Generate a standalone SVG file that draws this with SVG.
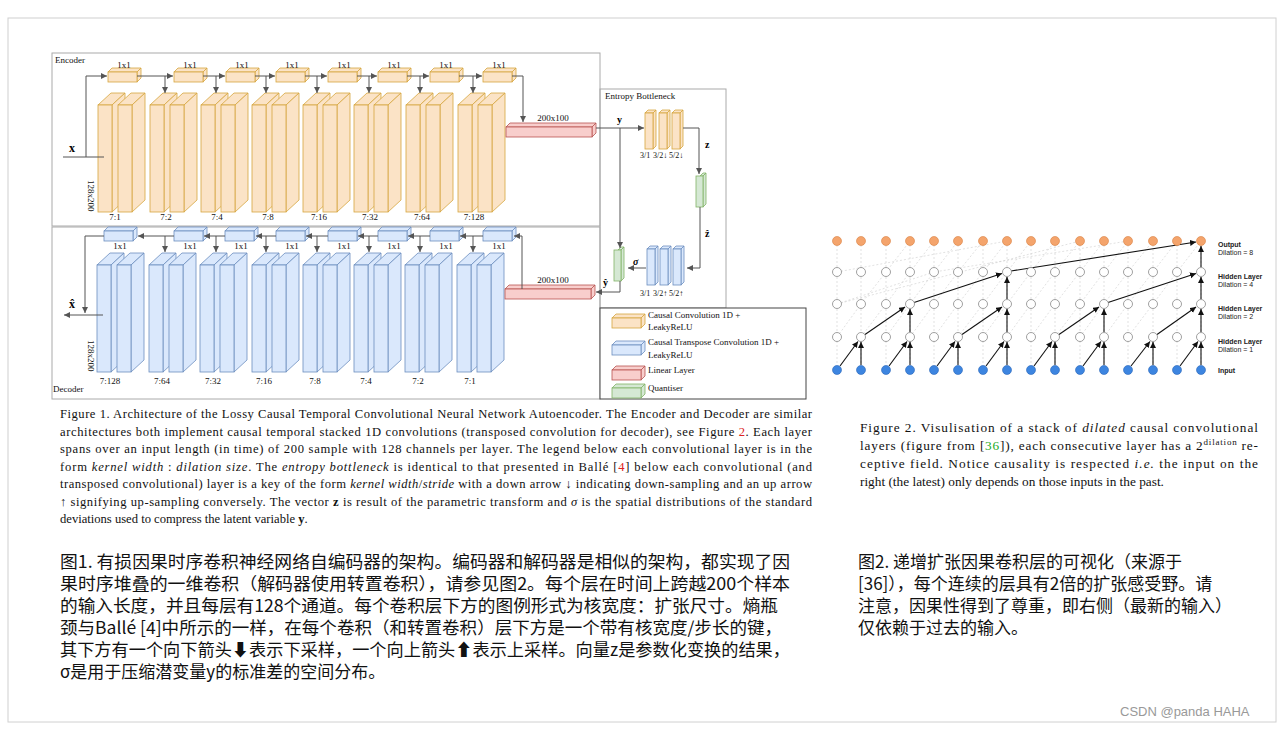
<svg xmlns="http://www.w3.org/2000/svg" xmlns:xlink="http://www.w3.org/1999/xlink" width="1284" height="729" viewBox="0 0 1284 729">
<style>
.s{font-family:"Liberation Serif",serif;font-size:9px;fill:#111}
.t{font-family:"Liberation Serif",serif;font-size:8px;fill:#111}
.cap{font-family:"Liberation Serif",serif;font-size:12.6px;fill:#111}
.cap2{font-family:"Liberation Serif",serif;font-size:13.3px;fill:#111}
.zh{font-family:"Noto Sans CJK SC","Liberation Sans",sans-serif;font-size:17px;fill:#111}
.ln{stroke:#555;stroke-width:1;fill:none}
.lk{stroke:#111;stroke-width:1.1;fill:none}
.lab{font-family:"Liberation Sans",Arial,sans-serif;font-size:7px;fill:#222}
.labb{font-family:"Liberation Sans",Arial,sans-serif;font-size:7px;font-weight:bold;fill:#222}
.o{fill:#fbe3c6;stroke:#d6a63f;stroke-width:0.8}
.b{fill:#dae8fc;stroke:#6c8ebf;stroke-width:0.8}
.r{fill:#f8cecc;stroke:#b85450;stroke-width:0.8}
.g{fill:#d5e8d4;stroke:#82b366;stroke-width:0.8}
.grid{stroke:#ccc;stroke-width:0.6;stroke-dasharray:2 2;fill:none}
</style>
<defs>
<marker id="ar" markerWidth="7" markerHeight="7" refX="6" refY="3" orient="auto" markerUnits="userSpaceOnUse"><path d="M0,0 L6,3 L0,6 Z" fill="#555"/></marker>
<marker id="ak" markerWidth="7" markerHeight="7" refX="6" refY="3" orient="auto" markerUnits="userSpaceOnUse"><path d="M0,0 L6,3 L0,6 Z" fill="#111"/></marker>
<g id="blk"><polygon points="0,0 13,-12 27,-12 14,0"/><polygon points="14,0 27,-12 27,95 14,107"/><rect x="0" y="0" width="14" height="107"/></g>
<g id="pair"><use xlink:href="#blk"/><use xlink:href="#blk" x="20"/></g>
<g id="sm"><polygon points="0,0 4,-4 33,-4 29,0"/><polygon points="29,0 33,-4 33,6 29,10"/><rect x="0" y="0" width="29" height="10"/></g>
<g id="lin"><polygon points="0,0 4,-4 90,-4 86,0"/><polygon points="86,0 90,-4 90,6 86,10"/><rect x="0" y="0" width="86" height="10"/></g>
<g id="bb"><polygon points="0,0 3,-3 11,-3 8,0"/><polygon points="8,0 11,-3 11,33 8,36"/><rect x="0" y="0" width="8" height="36"/></g>
<g id="qb"><polygon points="0,0 3,-3 6,-3 3,0"/><polygon points="3,0 6,-3 6,28 3,31"/><rect x="-4" y="0" width="7" height="31"/></g>
</defs>
<rect x="0" y="0" width="1284" height="729" fill="#fff"/>
<rect x="8" y="18" width="1268" height="704" fill="none" stroke="#d0d0d0"/>

<g id="frames" fill="none" stroke="#aaa" stroke-width="1">
<rect x="52" y="53" width="548" height="173"/>
<rect x="52" y="227" width="548" height="172"/>
<rect x="600" y="89" width="126" height="219"/>
</g>
<text class="s" x="55" y="63">Encoder</text>
<text class="s" x="53" y="392">Decoder</text>
<text class="s" x="605" y="99">Entropy Bottleneck</text>

<g id="encoder" class="o">
<use xlink:href="#pair" x="98" y="105"/><use xlink:href="#pair" x="150" y="105"/><use xlink:href="#pair" x="201" y="105"/><use xlink:href="#pair" x="252" y="105"/>
<use xlink:href="#pair" x="303" y="105"/><use xlink:href="#pair" x="354" y="105"/><use xlink:href="#pair" x="406" y="105"/><use xlink:href="#pair" x="458" y="105"/>
<use xlink:href="#sm" x="108" y="72"/><use xlink:href="#sm" x="174" y="72"/><use xlink:href="#sm" x="226" y="72"/><use xlink:href="#sm" x="276" y="72"/>
<use xlink:href="#sm" x="328" y="72"/><use xlink:href="#sm" x="378" y="72"/><use xlink:href="#sm" x="430" y="72"/><use xlink:href="#sm" x="483" y="72"/>
</g>
<g id="enc-linear" class="r"><use xlink:href="#lin" x="506" y="127"/></g>
<g class="s" text-anchor="middle">
<text x="124" y="68">1x1</text><text x="190" y="68">1x1</text><text x="242" y="68">1x1</text><text x="292" y="68">1x1</text>
<text x="344" y="68">1x1</text><text x="394" y="68">1x1</text><text x="446" y="68">1x1</text><text x="499" y="68">1x1</text>
<text x="115" y="220">7:1</text><text x="166" y="220">7:2</text><text x="217" y="220">7:4</text><text x="268" y="220">7:8</text>
<text x="319" y="220">7:16</text><text x="370" y="220">7:32</text><text x="422" y="220">7:64</text><text x="474" y="220">7:128</text>
<text x="553" y="121">200x100</text>
<text x="553" y="283">200x100</text>
<text x="110" y="384">7:128</text><text x="162" y="384">7:64</text><text x="213" y="384">7:32</text><text x="264" y="384">7:16</text>
<text x="315" y="384">7:8</text><text x="366" y="384">7:4</text><text x="418" y="384">7:2</text><text x="470" y="384">7:1</text>
<text x="120" y="249">1x1</text><text x="190" y="249">1x1</text><text x="241" y="249">1x1</text><text x="292" y="249">1x1</text>
<text x="344" y="249">1x1</text><text x="394" y="249">1x1</text><text x="446" y="249">1x1</text><text x="499" y="249">1x1</text>
</g>
<text class="s" transform="translate(88,180) rotate(90)">128x200</text>
<text class="s" transform="translate(88,340) rotate(90)">128x200</text>
<text x="69" y="152" font-family="Liberation Serif,serif" font-size="12" font-weight="bold">x</text>
<text x="69" y="308" font-family="Liberation Serif,serif" font-size="12" font-weight="bold">x̂</text>

<g id="decoder" class="b">
<use xlink:href="#pair" x="97" y="265"/><use xlink:href="#pair" x="149" y="265"/><use xlink:href="#pair" x="200" y="265"/><use xlink:href="#pair" x="252" y="265"/>
<use xlink:href="#pair" x="303" y="265"/><use xlink:href="#pair" x="354" y="265"/><use xlink:href="#pair" x="405" y="265"/><use xlink:href="#pair" x="457" y="265"/>
<use xlink:href="#sm" x="104" y="231"/><use xlink:href="#sm" x="174" y="231"/><use xlink:href="#sm" x="225" y="231"/><use xlink:href="#sm" x="276" y="231"/>
<use xlink:href="#sm" x="328" y="231"/><use xlink:href="#sm" x="378" y="231"/><use xlink:href="#sm" x="430" y="231"/><use xlink:href="#sm" x="483" y="231"/>
</g>
<g id="dec-linear" class="r"><use xlink:href="#lin" x="505" y="289"/></g>

<g id="bottleneck">
<g class="o"><use xlink:href="#bb" x="645" y="113"/><use xlink:href="#bb" x="659" y="113"/><use xlink:href="#bb" x="672" y="113"/></g>
<g class="b"><use xlink:href="#bb" x="647" y="249"/><use xlink:href="#bb" x="660" y="249"/><use xlink:href="#bb" x="673" y="249"/></g>
<g class="g"><use xlink:href="#qb" x="700" y="176"/><use xlink:href="#qb" x="618" y="250"/></g>
<g class="t"><text x="640" y="158">3/1</text><text x="653" y="158">3/2↓</text><text x="669" y="158">5/2↓</text>
<text x="640" y="296">3/1</text><text x="653" y="296">3/2↑</text><text x="669" y="296">5/2↑</text></g>
<g font-family="Liberation Serif,serif" font-size="10" font-weight="bold"><text x="617" y="123">y</text><text x="705" y="148">z</text><text x="705" y="237">ẑ</text><text x="603" y="286">ŷ</text><text x="633" y="265" font-style="italic">σ</text></g>
</g>

<g id="legend">
<rect x="600" y="308" width="206" height="91" fill="#fff" stroke="#444"/>
<g transform="translate(612,318)" class="o"><use xlink:href="#sm"/></g>
<g transform="translate(612,345)" class="b"><use xlink:href="#sm"/></g>
<g transform="translate(612,370)" class="r"><use xlink:href="#sm"/></g>
<g transform="translate(612,388)" class="g"><use xlink:href="#sm"/></g>
<g class="s"><text x="648" y="318">Causal Convolution 1D +</text><text x="648" y="330">LeakyReLU</text>
<text x="648" y="345">Causal Transpose Convolution 1D +</text><text x="648" y="358">LeakyReLU</text>
<text x="648" y="373">Linear Layer</text><text x="648" y="391">Quantiser</text></g>
</g>

<g id="connectors">
<polyline class="ln" points="63,157 104,157"/>
<polyline class="ln" points="86,157 86,76 107,76" marker-end="url(#ar)"/>
<line class="ln" x1="137" y1="76" x2="173" y2="76" marker-end="url(#ar)"/><line class="ln" x1="203" y1="76" x2="225" y2="76" marker-end="url(#ar)"/>
<line class="ln" x1="255" y1="76" x2="275" y2="76" marker-end="url(#ar)"/><line class="ln" x1="305" y1="76" x2="327" y2="76" marker-end="url(#ar)"/>
<line class="ln" x1="357" y1="76" x2="377" y2="76" marker-end="url(#ar)"/><line class="ln" x1="407" y1="76" x2="429" y2="76" marker-end="url(#ar)"/>
<line class="ln" x1="459" y1="76" x2="482" y2="76" marker-end="url(#ar)"/>
<polyline class="ln" points="512,76 523,76 523,122" marker-end="url(#ar)"/>
<line class="ln" x1="165" y1="76" x2="165" y2="93" marker-end="url(#ar)"/><line class="ln" x1="216" y1="76" x2="216" y2="93" marker-end="url(#ar)"/>
<line class="ln" x1="266" y1="76" x2="266" y2="93" marker-end="url(#ar)"/><line class="ln" x1="317" y1="76" x2="317" y2="93" marker-end="url(#ar)"/>
<line class="ln" x1="369" y1="76" x2="369" y2="93" marker-end="url(#ar)"/><line class="ln" x1="420" y1="76" x2="420" y2="93" marker-end="url(#ar)"/>
<line class="ln" x1="473" y1="76" x2="473" y2="93" marker-end="url(#ar)"/>
<polyline class="ln" points="522,289 522,236 514,236" marker-end="url(#ar)"/>
<line class="ln" x1="483" y1="236" x2="460" y2="236" marker-end="url(#ar)"/><line class="ln" x1="430" y1="236" x2="408" y2="236" marker-end="url(#ar)"/>
<line class="ln" x1="378" y1="236" x2="358" y2="236" marker-end="url(#ar)"/><line class="ln" x1="328" y1="236" x2="306" y2="236" marker-end="url(#ar)"/>
<line class="ln" x1="276" y1="236" x2="256" y2="236" marker-end="url(#ar)"/><line class="ln" x1="225" y1="236" x2="204" y2="236" marker-end="url(#ar)"/>
<line class="ln" x1="174" y1="236" x2="138" y2="236" marker-end="url(#ar)"/>
<polyline class="ln" points="104,236 85,236 85,313" marker-end="url(#ar)"/>
<line class="ln" x1="103" y1="315" x2="64" y2="315" marker-end="url(#ar)"/>
<line class="ln" x1="165" y1="236" x2="165" y2="252" marker-end="url(#ar)"/><line class="ln" x1="216" y1="236" x2="216" y2="252" marker-end="url(#ar)"/>
<line class="ln" x1="266" y1="236" x2="266" y2="252" marker-end="url(#ar)"/><line class="ln" x1="317" y1="236" x2="317" y2="252" marker-end="url(#ar)"/>
<line class="ln" x1="369" y1="236" x2="369" y2="252" marker-end="url(#ar)"/><line class="ln" x1="420" y1="236" x2="420" y2="252" marker-end="url(#ar)"/>
<line class="ln" x1="473" y1="236" x2="473" y2="252" marker-end="url(#ar)"/>
<line class="ln" x1="596" y1="128" x2="644" y2="128" marker-end="url(#ar)"/>
<polyline class="ln" points="683,128 699,128 699,174" marker-end="url(#ar)"/>
<polyline class="ln" points="700,207 700,268 687,268" marker-end="url(#ar)"/>
<line class="ln" x1="646" y1="268" x2="628" y2="268" marker-end="url(#ar)"/>
<line class="ln" x1="620" y1="128" x2="620" y2="248" marker-end="url(#ar)"/>
<polyline class="ln" points="620,281 620,292 596,292" marker-end="url(#ar)"/>
</g>

<g id="fig2">
<g class="grid">
<path d="M837,241V370M861,241V370M886,241V370M910,241V370M934,241V370M958,241V370M983,241V370M1007,241V370M1031,241V370M1055,241V370M1080,241V370M1104,241V370M1128,241V370M1153,241V370M1177,241V370M1201,241V370"/>
<path d="M837,337L861,304L886,272L910,241M861,337L886,304L910,272L934,241M886,337L910,304L934,272L958,241M910,337L934,304L958,272L983,241M934,337L958,304L983,272L1007,241M958,337L983,304L1007,272L1031,241M983,337L1007,304L1031,272L1055,241M1007,337L1031,304L1055,272L1080,241M1031,337L1055,304L1080,272L1104,241M1055,337L1080,304L1104,272L1128,241M1080,337L1104,304L1128,272L1153,241M1104,337L1128,304L1153,272L1177,241M1128,337L1153,304L1177,272L1201,241"/>
<path d="M837,304L934,272L1128,241M837,272L1007,241M837,304L1080,241"/>
</g>
<g class="lk">
<line x1="840" y1="366" x2="858" y2="341.5" marker-end="url(#ak)"/><line x1="861" y1="365" x2="861" y2="342" marker-end="url(#ak)"/>
<line x1="889" y1="366" x2="907" y2="341.5" marker-end="url(#ak)"/><line x1="910" y1="365" x2="910" y2="342" marker-end="url(#ak)"/>
<line x1="937" y1="366" x2="955" y2="341.5" marker-end="url(#ak)"/><line x1="958" y1="365" x2="958" y2="342" marker-end="url(#ak)"/>
<line x1="986" y1="366" x2="1004" y2="341.5" marker-end="url(#ak)"/><line x1="1007" y1="365" x2="1007" y2="342" marker-end="url(#ak)"/>
<line x1="1034" y1="366" x2="1052" y2="341.5" marker-end="url(#ak)"/><line x1="1055" y1="365" x2="1055" y2="342" marker-end="url(#ak)"/>
<line x1="1083" y1="366" x2="1101" y2="341.5" marker-end="url(#ak)"/><line x1="1104" y1="365" x2="1104" y2="342" marker-end="url(#ak)"/>
<line x1="1131" y1="366" x2="1150" y2="341.5" marker-end="url(#ak)"/><line x1="1153" y1="365" x2="1153" y2="342" marker-end="url(#ak)"/>
<line x1="1180" y1="366" x2="1198" y2="341.5" marker-end="url(#ak)"/><line x1="1201" y1="365" x2="1201" y2="342" marker-end="url(#ak)"/>
<line x1="865" y1="334.5" x2="905" y2="307" marker-end="url(#ak)"/><line x1="910" y1="332" x2="910" y2="309" marker-end="url(#ak)"/>
<line x1="962" y1="334.5" x2="1002" y2="307" marker-end="url(#ak)"/><line x1="1007" y1="332" x2="1007" y2="309" marker-end="url(#ak)"/>
<line x1="1059" y1="334.5" x2="1099" y2="307" marker-end="url(#ak)"/><line x1="1104" y1="332" x2="1104" y2="309" marker-end="url(#ak)"/>
<line x1="1157" y1="334.5" x2="1196" y2="307" marker-end="url(#ak)"/><line x1="1201" y1="332" x2="1201" y2="309" marker-end="url(#ak)"/>
<line x1="914" y1="302.5" x2="1002" y2="273.5" marker-end="url(#ak)"/><line x1="1007" y1="299" x2="1007" y2="277" marker-end="url(#ak)"/>
<line x1="1108" y1="302.5" x2="1196" y2="273.5" marker-end="url(#ak)"/><line x1="1201" y1="299" x2="1201" y2="277" marker-end="url(#ak)"/>
<line x1="1011" y1="271" x2="1196" y2="242" marker-end="url(#ak)"/><line x1="1201" y1="267" x2="1201" y2="246" marker-end="url(#ak)"/>
</g>
<g fill="#f4a46c" stroke="#d88040" stroke-width="0.6">
<circle cx="837" cy="241" r="4.5"/><circle cx="861" cy="241" r="4.5"/><circle cx="886" cy="241" r="4.5"/><circle cx="910" cy="241" r="4.5"/><circle cx="934" cy="241" r="4.5"/><circle cx="958" cy="241" r="4.5"/><circle cx="983" cy="241" r="4.5"/><circle cx="1007" cy="241" r="4.5"/><circle cx="1031" cy="241" r="4.5"/><circle cx="1055" cy="241" r="4.5"/><circle cx="1080" cy="241" r="4.5"/><circle cx="1104" cy="241" r="4.5"/><circle cx="1128" cy="241" r="4.5"/><circle cx="1153" cy="241" r="4.5"/><circle cx="1177" cy="241" r="4.5"/><circle cx="1201" cy="241" r="4.5"/>
</g>
<g fill="#fff" stroke="#888" stroke-width="0.8">
<circle cx="837" cy="272" r="4.5"/><circle cx="861" cy="272" r="4.5"/><circle cx="886" cy="272" r="4.5"/><circle cx="910" cy="272" r="4.5"/><circle cx="934" cy="272" r="4.5"/><circle cx="958" cy="272" r="4.5"/><circle cx="983" cy="272" r="4.5"/><circle cx="1007" cy="272" r="4.5"/><circle cx="1031" cy="272" r="4.5"/><circle cx="1055" cy="272" r="4.5"/><circle cx="1080" cy="272" r="4.5"/><circle cx="1104" cy="272" r="4.5"/><circle cx="1128" cy="272" r="4.5"/><circle cx="1153" cy="272" r="4.5"/><circle cx="1177" cy="272" r="4.5"/><circle cx="1201" cy="272" r="4.5"/>
<circle cx="837" cy="304" r="4.5"/><circle cx="861" cy="304" r="4.5"/><circle cx="886" cy="304" r="4.5"/><circle cx="910" cy="304" r="4.5"/><circle cx="934" cy="304" r="4.5"/><circle cx="958" cy="304" r="4.5"/><circle cx="983" cy="304" r="4.5"/><circle cx="1007" cy="304" r="4.5"/><circle cx="1031" cy="304" r="4.5"/><circle cx="1055" cy="304" r="4.5"/><circle cx="1080" cy="304" r="4.5"/><circle cx="1104" cy="304" r="4.5"/><circle cx="1128" cy="304" r="4.5"/><circle cx="1153" cy="304" r="4.5"/><circle cx="1177" cy="304" r="4.5"/><circle cx="1201" cy="304" r="4.5"/>
<circle cx="837" cy="337" r="4.5"/><circle cx="861" cy="337" r="4.5"/><circle cx="886" cy="337" r="4.5"/><circle cx="910" cy="337" r="4.5"/><circle cx="934" cy="337" r="4.5"/><circle cx="958" cy="337" r="4.5"/><circle cx="983" cy="337" r="4.5"/><circle cx="1007" cy="337" r="4.5"/><circle cx="1031" cy="337" r="4.5"/><circle cx="1055" cy="337" r="4.5"/><circle cx="1080" cy="337" r="4.5"/><circle cx="1104" cy="337" r="4.5"/><circle cx="1128" cy="337" r="4.5"/><circle cx="1153" cy="337" r="4.5"/><circle cx="1177" cy="337" r="4.5"/><circle cx="1201" cy="337" r="4.5"/>
</g>
<g fill="#3d85e0" stroke="#2a66b8" stroke-width="0.6">
<circle cx="837" cy="370" r="4.5"/><circle cx="861" cy="370" r="4.5"/><circle cx="886" cy="370" r="4.5"/><circle cx="910" cy="370" r="4.5"/><circle cx="934" cy="370" r="4.5"/><circle cx="958" cy="370" r="4.5"/><circle cx="983" cy="370" r="4.5"/><circle cx="1007" cy="370" r="4.5"/><circle cx="1031" cy="370" r="4.5"/><circle cx="1055" cy="370" r="4.5"/><circle cx="1080" cy="370" r="4.5"/><circle cx="1104" cy="370" r="4.5"/><circle cx="1128" cy="370" r="4.5"/><circle cx="1153" cy="370" r="4.5"/><circle cx="1177" cy="370" r="4.5"/><circle cx="1201" cy="370" r="4.5"/>
</g>
<text class="labb" x="1218" y="247">Output</text><text class="lab" x="1218" y="255">Dilation = 8</text>
<text class="labb" x="1218" y="279">Hidden Layer</text><text class="lab" x="1218" y="287">Dilation = 4</text>
<text class="labb" x="1218" y="311">Hidden Layer</text><text class="lab" x="1218" y="319">Dilation = 2</text>
<text class="labb" x="1218" y="344">Hidden Layer</text><text class="lab" x="1218" y="352">Dilation = 1</text>
<text class="labb" x="1218" y="373">Input</text>
</g>

<g id="caption1" class="cap">
<text x="60" y="418" textLength="752" lengthAdjust="spacing">Figure 1. Architecture of the Lossy Causal Temporal Convolutional Neural Network Autoencoder. The Encoder and Decoder are similar</text>
<text x="60" y="436" textLength="752" lengthAdjust="spacing">architectures both implement causal temporal stacked 1D convolutions (transposed convolution for decoder), see Figure <tspan fill="#d22">2</tspan>.  Each layer</text>
<text x="60" y="453" textLength="752" lengthAdjust="spacing">spans over an input length (in time) of 200 sample with 128 channels per layer.  The legend below each convolutional layer is in the</text>
<text x="60" y="471" textLength="752" lengthAdjust="spacing">form <tspan font-style="italic">kernel width</tspan> : <tspan font-style="italic">dilation size</tspan>. The <tspan font-style="italic">entropy bottleneck</tspan> is identical to that presented in Ballé [<tspan fill="#d22">4</tspan>] below each convolutional (and</text>
<text x="60" y="488" textLength="752" lengthAdjust="spacing">transposed convolutional) layer is a key of the form <tspan font-style="italic">kernel width</tspan>/<tspan font-style="italic">stride</tspan> with a down arrow ↓ indicating down-sampling and an up arrow</text>
<text x="60" y="506" textLength="752" lengthAdjust="spacing">↑ signifying up-sampling conversely. The vector <tspan font-weight="bold">z</tspan> is result of the parametric transform and <tspan font-style="italic">σ</tspan> is the spatial distributions of the standard</text>
<text x="60" y="523">deviations used to compress the latent variable <tspan font-weight="bold">y</tspan>.</text>
</g>
<g id="caption2" class="cap2">
<text x="860" y="432" textLength="398" lengthAdjust="spacing">Figure 2.  Visulisation of a stack of <tspan font-style="italic">dilated</tspan> causal convolutional</text>
<text x="860" y="450" textLength="398" lengthAdjust="spacing">layers (figure from [<tspan fill="#2a2">36</tspan>]), each consecutive layer has a 2<tspan font-size="9" dy="-5">dilation</tspan><tspan dy="5"> re-</tspan></text>
<text x="860" y="468" textLength="398" lengthAdjust="spacing">ceptive field.  Notice causality is respected <tspan font-style="italic">i.e.</tspan> the input on the</text>
<text x="860" y="486">right (the latest) only depends on those inputs in the past.</text>
</g>
<g id="zh1" class="zh">
<text x="60" y="568" textLength="730" lengthAdjust="spacingAndGlyphs">图1. 有损因果时序卷积神经网络自编码器的架构。编码器和解码器是相似的架构，都实现了因</text>
<text x="60" y="590" textLength="730" lengthAdjust="spacingAndGlyphs">果时序堆叠的一维卷积（解码器使用转置卷积），请参见图2。每个层在时间上跨越200个样本</text>
<text x="60" y="612" textLength="718" lengthAdjust="spacingAndGlyphs">的输入长度，并且每层有128个通道。每个卷积层下方的图例形式为核宽度：扩张尺寸。熵瓶</text>
<text x="60" y="634" textLength="722" lengthAdjust="spacingAndGlyphs">颈与Ballé [4]中所示的一样，在每个卷积（和转置卷积）层下方是一个带有核宽度/步长的键，</text>
<text x="60" y="656" textLength="730" lengthAdjust="spacingAndGlyphs">其下方有一个向下箭头⬇表示下采样，一个向上箭头⬆表示上采样。向量z是参数化变换的结果，</text>
<text x="60" y="678">σ是用于压缩潜变量y的标准差的空间分布。</text>
</g>
<g id="zh2" class="zh">
<text x="858" y="568">图2. 递增扩张因果卷积层的可视化（来源于</text>
<text x="858" y="590">[36]），每个连续的层具有2倍的扩张感受野。请</text>
<text x="858" y="612">注意，因果性得到了尊重，即右侧（最新的输入）</text>
<text x="858" y="634">仅依赖于过去的输入。</text>
</g>
<text x="1120" y="716" font-family="Liberation Sans,sans-serif" font-size="13" fill="#999">CSDN @panda HAHA</text>
</svg>
